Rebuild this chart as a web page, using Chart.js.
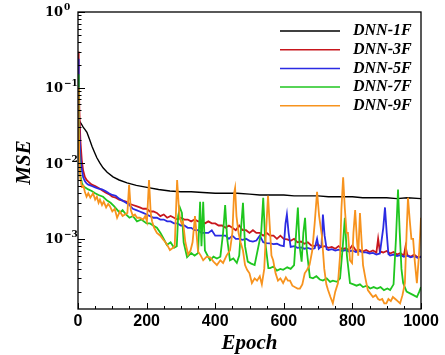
<!DOCTYPE html>
<html lang="en">
<head>
<meta charset="UTF-8">
<title>MSE vs Epoch</title>
<script src="https://cdn.jsdelivr.net/npm/chart.js"></script>
<style>
  html, body { margin: 0; padding: 0; background: #fff; }
</style>
</head>
<body>
<canvas id="mseChart" width="445" height="355"></canvas>
<script>
const seriesNames = ["DNN-1F", "DNN-3F", "DNN-5F", "DNN-7F", "DNN-9F"];
const seriesColors = ["#000000", "#c8161d", "#2b2be3", "#1fc61f", "#f7931e"];
const seriesWidths = [1.4, 1.8, 1.8, 1.8, 1.8];

const e1F = [0, 3, 6, 10, 15, 20, 26, 33, 41, 48, 55, 64, 73, 85, 102, 120, 143, 170, 201, 235,
  268, 300, 330, 364, 400, 430, 464, 500, 530, 560, 600, 630, 660, 700, 730, 760, 800, 830, 860, 900,
  930, 960, 1000];
const mse1F = [0.030, 0.036, 0.035, 0.033, 0.030, 0.028, 0.0256, 0.021, 0.0166, 0.014, 0.0118, 0.0100, 0.0087, 0.0076, 0.0066, 0.0060, 0.0055, 0.0051, 0.0048, 0.0045,
  0.0043, 0.0042, 0.0042, 0.0041, 0.0040, 0.0040, 0.0040, 0.0039, 0.0038, 0.0038, 0.0038, 0.0037, 0.0037, 0.0037, 0.0036, 0.0036, 0.0036, 0.0035, 0.0035, 0.0035,
  0.0034, 0.0035, 0.0034];

const e3F = [0, 2, 4, 7, 11, 15, 20, 25, 30, 40, 50, 60, 70, 80, 90,
  100, 110, 120, 130, 140, 150, 160, 170, 180, 190, 200, 210, 220, 230, 240, 250, 260, 270, 280, 290,
  300, 310, 320, 330, 340, 350, 360, 370, 380, 390, 400, 410, 420, 430, 440, 450, 460, 470, 480, 490,
  500, 510, 520, 530, 540, 550, 560, 570, 580, 590, 600, 610, 620, 630, 640, 650, 660, 670, 680, 690,
  700, 710, 720, 730, 740, 750, 760, 770, 780, 790, 800, 810, 820, 830, 840, 850, 860, 870, 875, 880,
  890, 900, 910, 920, 930, 940, 950, 955, 960, 970, 980, 990, 1000];
const mse3F = [0.30, 0.15, 0.05, 0.02, 0.011, 0.0080, 0.0066, 0.0060, 0.0057, 0.0052, 0.0050, 0.0047, 0.0044, 0.0041, 0.0039,
  0.0036, 0.0035, 0.0033, 0.0032, 0.0031, 0.0029, 0.0028, 0.0027, 0.0026, 0.0025, 0.0025, 0.0023, 0.0023, 0.0022, 0.0020, 0.0021, 0.0019, 0.0020, 0.0019, 0.0018,
  0.0019, 0.0018, 0.0018, 0.0017, 0.0018, 0.0017, 0.0017, 0.0016, 0.0017, 0.0016, 0.0016, 0.0015, 0.0015, 0.0014, 0.0015, 0.0014, 0.0013, 0.0015, 0.0013, 0.0013,
  0.0012, 0.0013, 0.0012, 0.0012, 0.0011, 0.0012, 0.0011, 0.0011, 0.0010, 0.0011, 0.0010, 0.00098, 0.00094, 0.0010, 0.00090, 0.00092, 0.00086, 0.00090, 0.00082, 0.00080,
  0.00084, 0.00078, 0.00080, 0.00076, 0.00078, 0.00074, 0.00080, 0.00073, 0.00075, 0.00071, 0.00082, 0.00070, 0.00072, 0.00068, 0.00071, 0.00067, 0.00070, 0.00066, 0.0010, 0.00068,
  0.00066, 0.00069, 0.00064, 0.00067, 0.00062, 0.00065, 0.00060, 0.00080, 0.00061, 0.00058, 0.00062, 0.00057, 0.00058];

const e5F = [0, 2, 4, 7, 11, 15, 20, 25, 30, 40, 50, 60, 70, 80, 90,
  100, 110, 120, 130, 140, 150, 160, 170, 180, 190, 200, 210, 220, 230, 240, 250, 260, 270, 280, 290,
  300, 310, 320, 330, 340, 350, 360, 370, 380, 390, 400, 410, 420, 430, 440, 450, 460, 470, 480, 490,
  500, 510, 520, 530, 540, 550, 560, 570, 580, 590, 600, 605, 609, 614, 620, 630, 640, 650, 660, 670,
  680, 690, 697, 702, 710, 714, 719, 725, 730, 740, 750, 760, 770, 780, 790, 800, 810, 820, 830, 840,
  850, 860, 870, 880, 890, 895, 900, 905, 910, 920, 930, 940, 950, 960, 970, 980, 990, 1000];
const mse5F = [0.24, 0.08, 0.025, 0.012, 0.0085, 0.0065, 0.0058, 0.0054, 0.0052, 0.0050, 0.0048, 0.0046, 0.0045, 0.0043, 0.0040,
  0.0038, 0.0037, 0.0034, 0.0032, 0.0030, 0.0028, 0.0025, 0.0024, 0.0023, 0.0022, 0.0021, 0.0020, 0.0019, 0.0019, 0.0018, 0.0018, 0.0017, 0.0017, 0.0016, 0.0016,
  0.0015, 0.0015, 0.0014, 0.0014, 0.0013, 0.0013, 0.0012, 0.0012, 0.0012, 0.0013, 0.0011, 0.0011, 0.0011, 0.0011, 0.0010, 0.0011, 0.0010, 0.0010, 0.00097, 0.0010,
  0.00094, 0.00092, 0.00095, 0.0011, 0.00090, 0.00088, 0.00087, 0.00085, 0.00086, 0.00082, 0.00080, 0.0016, 0.0021, 0.0012, 0.00078, 0.00080, 0.00076, 0.00077, 0.00074, 0.00076,
  0.00073, 0.00075, 0.0010, 0.00074, 0.00080, 0.0021, 0.0011, 0.00073, 0.00071, 0.00073, 0.00070, 0.00072, 0.00069, 0.00071, 0.00068, 0.00070, 0.00067, 0.00069, 0.00066, 0.00066,
  0.00064, 0.00065, 0.00062, 0.00064, 0.0014, 0.0026, 0.0012, 0.00063, 0.00060, 0.00062, 0.00059, 0.00061, 0.00058, 0.00060, 0.00057, 0.00059, 0.00056, 0.00058];

const e7F = [0, 2, 4, 7, 11, 15, 20, 30, 40, 50, 60, 73, 85, 95, 105, 115, 122, 130, 140, 150,
  160, 172, 185, 200, 210, 219, 230, 240, 250, 259, 270, 280, 288, 292, 297, 303, 308, 318, 330, 340,
  350, 356, 360, 365, 370, 385, 395, 405, 415, 423, 429, 435, 443, 453, 463, 470, 476, 481, 487, 495,
  505, 515, 534, 540, 546, 555, 560, 570, 580, 590, 598, 610, 620, 630, 636, 641, 646, 652, 657, 662,
  667, 676, 685, 695, 705, 714, 725, 735, 743, 755, 764, 772, 778, 784, 793, 803, 812, 822, 831, 842,
  852, 862, 872, 882, 892, 902, 910, 920, 927, 933, 938, 943, 948, 958, 968, 978, 988, 995, 1000];
const mse7F = [0.15, 0.04, 0.012, 0.0068, 0.0056, 0.0050, 0.0048, 0.0045, 0.0043, 0.0040, 0.0038, 0.0036, 0.0032, 0.0030, 0.0027, 0.0024, 0.0022, 0.0024, 0.0021, 0.0019,
  0.0020, 0.0017, 0.0018, 0.0016, 0.0016, 0.0015, 0.0014, 0.0012, 0.0010, 0.00083, 0.00090, 0.00076, 0.00080, 0.0020, 0.0026, 0.0022, 0.0009, 0.00057, 0.00065, 0.00060,
  0.00065, 0.0031, 0.0008, 0.0031, 0.0007, 0.00052, 0.00058, 0.00055, 0.00058, 0.0012, 0.0028, 0.0010, 0.00052, 0.00055, 0.00048, 0.0006, 0.0015, 0.0030, 0.0008, 0.00050,
  0.00047, 0.00045, 0.0012, 0.0035, 0.0009, 0.00041, 0.00041, 0.00043, 0.00038, 0.00040, 0.00039, 0.00042, 0.00040, 0.00045, 0.0012, 0.0026, 0.0008, 0.0005, 0.0012, 0.0019,
  0.0007, 0.00031, 0.00030, 0.00032, 0.00029, 0.00028, 0.00030, 0.00027, 0.00028, 0.00027, 0.00030, 0.0008, 0.0019, 0.0006, 0.00026, 0.00025, 0.00024, 0.00025, 0.00023, 0.00024,
  0.00022, 0.00023, 0.00022, 0.00023, 0.00021, 0.00022, 0.00021, 0.00025, 0.0010, 0.0045, 0.0012, 0.0004, 0.00026, 0.00020, 0.00019, 0.00018, 0.00017, 0.00020, 0.00023];

const e9F = [0, 2, 4, 7, 11, 16, 20, 25, 30, 36, 44, 50, 55, 60, 64, 70, 75, 82, 88, 93,
  100, 107, 114, 122, 130, 137, 144, 149, 154, 160, 166, 172, 180, 190, 196, 201, 207, 212, 216, 222,
  230, 240, 248, 255, 262, 268, 275, 282, 289, 294, 297, 302, 306, 313, 321, 328, 334, 341, 346, 350,
  358, 365, 375, 385, 395, 405, 415, 423, 433, 443, 450, 455, 458, 462, 468, 474, 481, 487, 493, 500,
  507, 515, 522, 530, 536, 543, 548, 554, 559, 564, 569, 576, 583, 590, 598, 606, 612, 618, 625, 632,
  640, 647, 654, 661, 668, 675, 683, 690, 697, 703, 711, 718, 724, 729, 736, 743, 750, 758, 764, 768,
  773, 778, 783, 787, 793, 799, 803, 808, 813, 817, 822, 827, 831, 838, 845, 852, 860, 868, 875, 880,
  887, 893, 899, 905, 912, 918, 925, 932, 939, 946, 953, 958, 962, 967, 972, 977, 982, 988, 994, 1000];
const mse9F = [0.10, 0.03, 0.010, 0.0062, 0.0049, 0.0050, 0.0042, 0.0036, 0.0040, 0.0035, 0.0040, 0.0033, 0.0036, 0.0030, 0.0033, 0.0028, 0.0031, 0.0026, 0.0029, 0.0027,
  0.0023, 0.0025, 0.0019, 0.0023, 0.0020, 0.0021, 0.0022, 0.0052, 0.0024, 0.0020, 0.0021, 0.0019, 0.0019, 0.0018, 0.0020, 0.0017, 0.0060, 0.0022, 0.0017, 0.0014,
  0.0012, 0.0011, 0.00098, 0.0009, 0.0008, 0.00071, 0.00075, 0.0008, 0.0060, 0.0026, 0.0019, 0.0016, 0.0017, 0.0009, 0.00062, 0.0007, 0.0009, 0.0020, 0.0011, 0.00068,
  0.00060, 0.00052, 0.00058, 0.00057, 0.00050, 0.00045, 0.00052, 0.00048, 0.00060, 0.00070, 0.0012, 0.0040, 0.0047, 0.0020, 0.0012, 0.0009, 0.0007, 0.00045, 0.00039, 0.00035,
  0.00026, 0.00030, 0.00028, 0.00032, 0.00025, 0.00040, 0.0012, 0.0037, 0.0015, 0.0006, 0.00052, 0.00035, 0.00028, 0.00030, 0.00026, 0.00031, 0.00028, 0.00028, 0.00024, 0.00023,
  0.00022, 0.00022, 0.00025, 0.00035, 0.00039, 0.00045, 0.0007, 0.0016, 0.0042, 0.0020, 0.0011, 0.00040, 0.00025, 0.00021, 0.00017, 0.00014, 0.00020, 0.00026, 0.0006, 0.0025,
  0.0065, 0.0025, 0.0012, 0.0012, 0.00052, 0.00048, 0.0012, 0.0024, 0.0010, 0.0006, 0.0022, 0.0009, 0.00045, 0.00030, 0.00021, 0.00019, 0.00017, 0.00018, 0.00016, 0.000155,
  0.00016, 0.00014, 0.00014, 0.00016, 0.00015, 0.00017, 0.00016, 0.00015, 0.00014, 0.00018, 0.00026, 0.0012, 0.0035, 0.0018, 0.0010, 0.0010, 0.0005, 0.00026, 0.0006, 0.0019];

const epochLists = [e1F, e3F, e5F, e7F, e9F];
const mseLists = [mse1F, mse3F, mse5F, mse7F, mse9F];

const xMajorStep = 200, xMinorStep = 50;
const yMin = 1.18e-4, yMax = 1;
const yDecades = [0, -1, -2, -3];

const datasets = seriesNames.map((name, i) => ({
  label: name,
  data: epochLists[i].map((e, k) => ({ x: e, y: mseLists[i][k] })),
  borderColor: seriesColors[i],
  borderWidth: seriesWidths[i],
  pointRadius: 0,
  tension: 0,
  fill: false,
  order: seriesNames.length - i
}));

// frame, inward ticks, y labels with superscripts, axis titles and legend
const decorations = {
  id: 'decorations',
  afterDatasetsDraw(chart) {
    const { ctx, chartArea: a, scales: { x, y } } = chart;
    ctx.save();
    ctx.strokeStyle = '#000';
    ctx.lineWidth = 1.3;
    ctx.strokeRect(a.left, a.top, a.right - a.left, a.bottom - a.top);

    ctx.lineWidth = 1;
    ctx.beginPath();
    for (let v = 0; v <= 1000; v += xMinorStep) {
      const px = Math.round(x.getPixelForValue(v)) + 0.5;
      const len = v % xMajorStep === 0 ? 6 : 3;
      ctx.moveTo(px, a.bottom);
      ctx.lineTo(px, a.bottom - len);
    }
    for (let d = -4; d <= 0; d++) {
      for (let k = 1; k <= 9; k++) {
        const v = k * Math.pow(10, d);
        if (v < yMin || v > yMax) continue;
        const py = Math.round(y.getPixelForValue(v)) + 0.5;
        const len = k === 1 ? 7 : 3.5;
        ctx.moveTo(a.left, py);
        ctx.lineTo(a.left + len, py);
      }
    }
    ctx.stroke();

    ctx.fillStyle = '#000';
    ctx.textBaseline = 'middle';
    yDecades.forEach(d => {
      const py = y.getPixelForValue(Math.pow(10, d));
      ctx.font = 'bold 13px "DejaVu Serif"';
      ctx.textAlign = 'right';
      ctx.fillText('10', 63, py + 1);
      ctx.font = 'bold 9px "DejaVu Serif"';
      ctx.textAlign = 'left';
      ctx.fillText(d === 0 ? '0' : '\u2212' + (-d), 64, py - 4);
    });

    ctx.font = 'italic bold 21px "Liberation Serif"';
    ctx.textAlign = 'center';
    ctx.fillText('Epoch', (a.left + a.right) / 2, 344);
    ctx.save();
    ctx.translate(25, (a.top + a.bottom) / 2 + 2);
    ctx.rotate(-Math.PI / 2);
    ctx.fillText('MSE', 0, 0);
    ctx.restore();

    ctx.font = 'italic bold 16px "Liberation Serif"';
    ctx.textAlign = 'left';
    chart.data.datasets.forEach((ds, i) => {
      const ry = 31 + i * 18.7;
      ctx.strokeStyle = ds.borderColor;
      ctx.lineWidth = 1.5;
      ctx.beginPath();
      ctx.moveTo(280, ry);
      ctx.lineTo(340, ry);
      ctx.stroke();
      ctx.fillText(ds.label, 353, ry);
    });
    ctx.restore();
  }
};

new Chart(document.getElementById('mseChart'), {
  type: 'line',
  data: { datasets },
  options: {
    responsive: false,
    devicePixelRatio: 1,
    animation: false,
    layout: { padding: { top: 12, right: 24, left: 0, bottom: 0 } },
    plugins: { legend: { display: false }, tooltip: { enabled: false } },
    scales: {
      x: {
        type: 'linear', min: 0, max: 1000,
        ticks: { stepSize: xMajorStep, color: '#000', padding: 3, maxRotation: 0,
          callback: v => String(v),
          font: { family: 'Liberation Sans', size: 16, weight: 'bold' } },
        grid: { display: false, drawTicks: false },
        border: { display: false },
        afterFit(s) { s.height = 46; }
      },
      y: {
        type: 'logarithmic', min: yMin, max: yMax,
        ticks: { display: false },
        grid: { display: false, drawTicks: false },
        border: { display: false },
        afterFit(s) { s.width = 78; }
      }
    }
  },
  plugins: [decorations]
});
</script>
</body>
</html>
